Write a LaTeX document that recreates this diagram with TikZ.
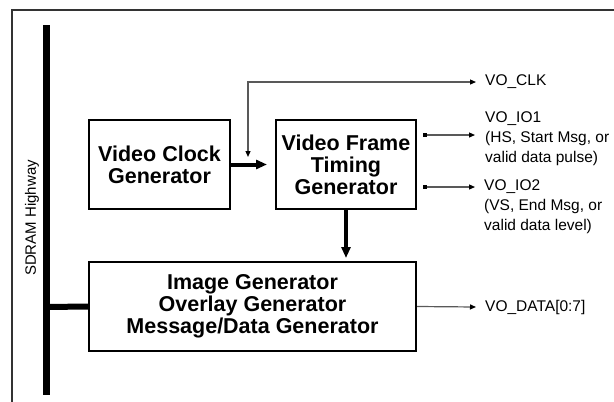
\documentclass[tikz,border=0pt]{standalone}
\usepackage{fontspec}
\setmainfont{Liberation Sans}
\usetikzlibrary{arrows.meta}
\begin{document}
\begin{tikzpicture}[x=1pt,y=-1pt,
  box/.style={draw=black,line width=2pt,minimum height=89pt,align=center,
    font=\fontsize{21.5}{22}\selectfont\bfseries,inner sep=0pt},
  lbl/.style={anchor=west,align=left,inner sep=0pt,font=\fontsize{15.5}{20}\selectfont},
  thinarr/.style={draw=black!65,line width=1.2pt,-{Triangle[length=6pt,width=5pt,color=black]}},
  thinboth/.style={draw=black!65,line width=1.2pt,{Square[length=4pt,width=4.5pt,color=black]}-{Triangle[length=6pt,width=5pt,color=black]}},
  clkarr/.style={draw=black!65,line width=1.2pt,{Triangle[length=6pt,width=5pt,color=black]}-{Triangle[length=6pt,width=5pt,color=black]}},
  thickarr/.style={line width=4pt,-{Triangle[length=11pt,width=9pt]}}]
\useasboundingbox (0,0) rectangle (614,402);
\fill[white] (0,0) rectangle (614,402);
% frame
\draw[line width=1.5pt,black!80] (614,10) -- (12,10) -- (12,402);
% bus
\coordinate (bustop) at (46.5,25);
\coordinate (busbot) at (46.5,395);
\draw[line width=6.5pt] (bustop) -- (busbot);
\node[rotate=90,inner sep=0pt,font=\fontsize{15}{15}\selectfont] (sdram) at (32,218) {SDRAM Highway};
% boxes
\node[box,minimum width=141pt] (vcg) at (159.5,164.5) {Video Clock\\Generator};
\node[box,minimum width=140pt] (vftg) at (346,164.5) {Video Frame\\Timing\\Generator};
\node[box,minimum width=327pt] (img) at (252.5,306.5) {Image Generator\\Overlay Generator\\Message/Data Generator};
% labels
\node[lbl] (voclk) at (485,82) {VO\_CLK};
\node[lbl] (voio1) at (485,139) {VO\_IO1\\(HS, Start Msg, or\\valid data pulse)};
\node[lbl] (voio2) at (484,207) {VO\_IO2\\(VS, End Msg, or\\valid data level)};
\node[lbl] (vodata) at (485,307) {VO\_DATA[0:7]};
% connectors
\coordinate (clkin) at (248,157);
\draw[clkarr] (clkin) |- ([xshift=-9pt]voclk.west);
\draw[thickarr] (vcg.east) -- ([xshift=-8pt]vftg.west);
\coordinate (io1a) at (423,135);
\coordinate (io1b) at (475,135);
\draw[thinboth] (io1a) -- (io1b);
\coordinate (io2a) at (423,187);
\coordinate (io2b) at (475,187);
\draw[thinboth] (io2a) -- (io2b);
\draw[thickarr] (vftg.south) -- ([yshift=3pt]vftg.south |- img.north);
\coordinate (busj) at (46.5,307);
\draw[line width=6pt] (busj) -- (img.west);
\draw[thinarr] (img.east) -- ([xshift=-9pt]vodata.west);
\end{tikzpicture}
\end{document}
